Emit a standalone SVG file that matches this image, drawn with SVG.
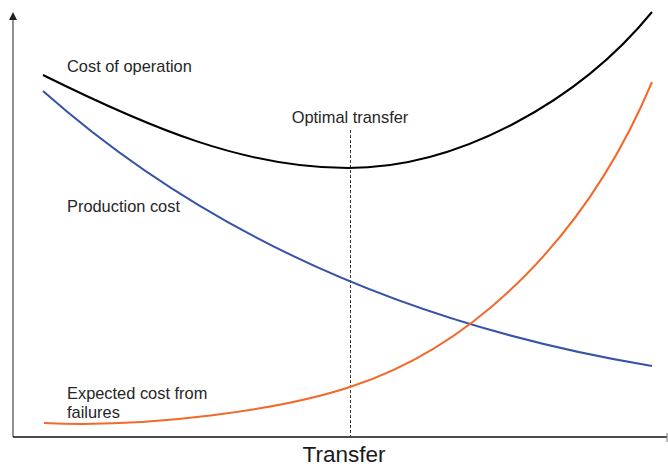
<svg xmlns="http://www.w3.org/2000/svg" width="668" height="466" viewBox="0 0 668 466">
<style>
.lbl{font-family:"Liberation Sans",Arial,sans-serif;font-size:16.4px;fill:#262626}
.curve{fill:none;stroke-width:2}
</style>
<rect width="668" height="466" fill="#ffffff"/>
<g id="axes">
<line x1="13" y1="437" x2="13" y2="19" stroke="#555" stroke-width="1.3"/>
<polygon points="13,12 9,20 17,20" fill="#222"/>
<line x1="13" y1="437" x2="667" y2="437" stroke="#111" stroke-width="1.5"/>
<line x1="667" y1="433" x2="667" y2="442" stroke="#777" stroke-width="1"/>
</g>
<g id="connectors">
<line x1="350.5" y1="130" x2="350.5" y2="437" stroke="#333" stroke-width="1" stroke-dasharray="3,2"/>
</g>
<g id="cost-of-operation">
<path class="curve" stroke="#000" d="M43,75 C150,128 245,168 348,168 C460,168 580,100 652,12"/>
<text class="lbl" x="67" y="72">Cost of operation</text>
</g>
<g id="production-cost">
<path class="curve" stroke="#3553a8" d="M43,91 C200,230 400,324 652,366"/>
<text class="lbl" x="67" y="212">Production cost</text>
</g>
<g id="expected-cost">
<path class="curve" stroke="#f26a2a" d="M44,423 C150,428 280,410 350,387 C480,345 590,230 652,82"/>
<text class="lbl" x="67" y="399">Expected cost from</text>
<text class="lbl" x="67" y="418">failures</text>
</g>
<g id="optimal">
<text class="lbl" x="350" y="123" text-anchor="middle">Optimal transfer</text>
</g>
<text x="344" y="462" text-anchor="middle" font-family="Liberation Sans, Arial, sans-serif" font-size="22.5" fill="#1a1a1a">Transfer</text>
</svg>
